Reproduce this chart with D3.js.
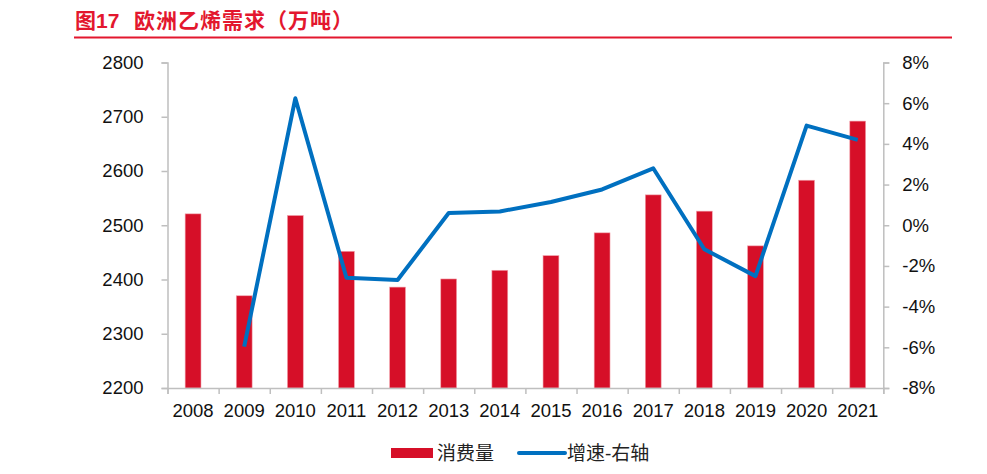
<!DOCTYPE html>
<html>
<head>
<meta charset="utf-8">
<script src="https://cdn.jsdelivr.net/npm/d3@7"></script>
<style>
  body { margin: 0; background: #fff; }
  text { font-family: "Liberation Sans", Arial, "Noto Sans CJK SC", sans-serif; }
</style>
</head>
<body>
<div id="chart"></div>
<script>
var years = ['2008', '2009', '2010', '2011', '2012', '2013', '2014',
             '2015', '2016', '2017', '2018', '2019', '2020', '2021'];
// 消费量 (万吨)
var consumption = [2521, 2370, 2518, 2452, 2386, 2401, 2417,
                   2444, 2486, 2556, 2526, 2462, 2583, 2692];
// 增速-右轴 (%), 2008 has no value
var growth = [null, -5.97, 6.24, -2.58, -2.69, 0.6, 0.68,
              1.14, 1.76, 2.8, -1.18, -2.5, 4.9, 4.2];
var leftTicks = [2200, 2300, 2400, 2500, 2600, 2700, 2800];
var rightTicks = [-8, -6, -4, -2, 0, 2, 4, 6, 8];

var W = 987, H = 474;
var margin = {top: 62.5, right: 103.7, bottom: 86, left: 167.5};
var width = W - margin.left - margin.right,
    height = H - margin.top - margin.bottom;

var svg = d3.select('#chart')
    .append('svg')
    .attr('width', W)
    .attr('height', H);

// title
var red = '#e3172e';
svg.append('text')
    .attr('x', 75)
    .attr('y', 28)
    .attr('fill', red)
    .attr('font-size', 21)
    .attr('font-weight', 'bold')
    .text('图17');
svg.append('text')
    .attr('x', 134)
    .attr('y', 28)
    .attr('fill', red)
    .attr('font-size', 21)
    .attr('font-weight', 'bold')
    .attr('font-family', '"Noto Sans CJK SC", sans-serif')
    .attr('letter-spacing', 1)
    .text('欧洲乙烯需求（万吨）');
svg.append('line')
    .attr('x1', 74).attr('x2', 952)
    .attr('y1', 37.5).attr('y2', 37.5)
    .attr('stroke', red)
    .attr('stroke-width', 2);

var g = svg.append('g')
    .attr('transform', `translate(${margin.left},${margin.top})`);

var x = d3.scaleBand()
    .domain(years)
    .range([0, width])
    .paddingInner(0.69)
    .paddingOuter(0.345);
var xc = function(d) { return x(d) + x.bandwidth() / 2; };

var yL = d3.scaleLinear()
    .domain([2200, 2800])
    .range([height, 0]);
var yR = d3.scaleLinear()
    .domain([-8, 8])
    .range([height, 0]);

var axisColor = '#bfbfbf';

// bars
g.selectAll('rect.bar')
    .data(consumption)
    .enter()
    .append('rect')
    .attr('class', 'bar')
    .attr('x', function(d, i) { return x(years[i]); })
    .attr('width', x.bandwidth())
    .attr('y', function(d) { return yL(d); })
    .attr('height', function(d) { return height - yL(d); })
    .attr('fill', '#d60f28')
    .attr('stroke', '#f2a3ad')
    .attr('stroke-width', 0.6);

// axes
var leftAxis = g.append('g')
    .call(d3.axisLeft(yL).tickValues(leftTicks).tickSize(6).tickPadding(18)
          .tickFormat(d3.format('d')));
var rightAxis = g.append('g')
    .attr('transform', `translate(${width},0)`)
    .call(d3.axisRight(yR).tickValues(rightTicks).tickSize(6).tickPadding(13)
          .tickFormat(function(d) { return d + '%'; }));
var xAxis = g.append('g')
    .attr('transform', `translate(0,${height})`)
    .call(d3.axisBottom(d3.scalePoint().domain(d3.range(15)).range([0, width]))
          .tickSize(6).tickFormat(''));

[leftAxis, rightAxis, xAxis].forEach(function(a) {
    a.select('.domain').attr('stroke', axisColor).attr('stroke-width', 1.5);
    a.selectAll('.tick line').attr('stroke', axisColor).attr('stroke-width', 1.5);
    a.selectAll('.tick text')
        .attr('font-size', 18.5)
        .attr('fill', '#111')
        .attr('font-family', '"Liberation Sans", Arial, sans-serif');
});
rightAxis.selectAll('.tick text').attr('text-anchor', 'start');

// year labels under the bars
g.selectAll('text.year')
    .data(years)
    .enter()
    .append('text')
    .attr('class', 'year')
    .attr('x', function(d) { return xc(d); })
    .attr('y', height + 29)
    .attr('text-anchor', 'middle')
    .attr('font-size', 18.5)
    .attr('fill', '#111')
    .text(function(d) { return d; });

// growth line
var lineData = growth.map(function(v, i) { return {year: years[i], value: v}; })
    .filter(function(d) { return d.value !== null; });
g.append('path')
    .datum(lineData)
    .attr('fill', 'none')
    .attr('stroke', '#0070c0')
    .attr('stroke-width', 4)
    .attr('stroke-linejoin', 'round')
    .attr('d', d3.line()
          .x(function(d) { return xc(d.year); })
          .y(function(d) { return yR(d.value); }));

// legend
var legend = svg.append('g');
legend.append('rect')
    .attr('x', 391).attr('y', 448)
    .attr('width', 42).attr('height', 10)
    .attr('fill', '#d60f28');
legend.append('text')
    .attr('x', 437).attr('y', 460)
    .attr('font-size', 19)
    .attr('fill', '#222')
    .attr('font-family', '"Noto Sans CJK SC", sans-serif')
    .text('消费量');
legend.append('line')
    .attr('x1', 519).attr('x2', 565)
    .attr('y1', 453).attr('y2', 453)
    .attr('stroke', '#0070c0')
    .attr('stroke-width', 4)
    .attr('stroke-linecap', 'round');
legend.append('text')
    .attr('x', 567).attr('y', 460)
    .attr('font-size', 19)
    .attr('fill', '#222')
    .attr('font-family', '"Noto Sans CJK SC", sans-serif')
    .text('增速-右轴');
</script>
</body>
</html>
